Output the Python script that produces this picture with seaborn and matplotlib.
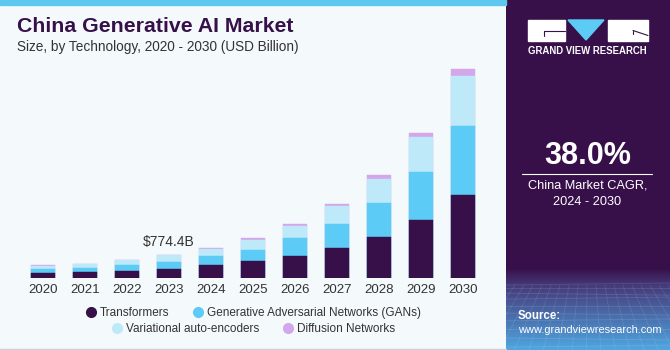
import numpy as np
import pandas as pd
import matplotlib
matplotlib.use("Agg")
import matplotlib.pyplot as plt
import seaborn as sns
from matplotlib.lines import Line2D
from matplotlib.patches import Rectangle, Polygon

# ---------------- data (USD Billion) ----------------
years = ['2020', '2021', '2022', '2023', '2024', '2025', '2026', '2027', '2028', '2029', '2030']
transformers = [160, 185, 243, 310, 422, 555, 721, 997, 1363, 1918, 2749]
gans = [130, 140, 176, 233, 299, 386, 598, 798, 1130, 1596, 2313]
vae = [115, 130, 166, 209, 246, 332, 419, 588, 808, 1183, 1642]
diffusion = [17, 20, 23, 22.4, 33, 47, 57, 76, 123, 123, 233]
series_names = ['Transformers', 'Generative Adversarial Networks (GANs)',
                'Variational auto-encoders', 'Diffusion Networks']
annot_year = '2023'
annot_text = '$774.4B'
cagr_text = '38.0%'

colors = ['#37104a', '#5ccbf5', '#bde9f9', '#d3a7ea']
BG = '#f4f9fc'
PURPLE = '#37104a'

sns.set_theme(style='white')
plt.rcParams['font.family'] = ['Liberation Sans', 'DejaVu Sans']

W, H = 670, 350
fig = plt.figure(figsize=(W / 100, H / 100), dpi=100)
fig.patch.set_facecolor(BG)

def fx(px):
    return px / W

def fy(py):
    return 1 - py / H

# top cyan strip
fig.patches.append(Rectangle((0, fy(5)), fx(506), 5 / H, transform=fig.transFigure,
                             color='#5ec7f0', zorder=0))
# bottom border line
fig.patches.append(Rectangle((0, 0), fx(506), 1.5 / H, transform=fig.transFigure,
                             color='#cdd2d6', zorder=0))

# ---------------- bars ----------------
ax = fig.add_axes([fx(22), fy(278), 462 / W, 218 / H])
ax.set_facecolor('none')
layers = [transformers, gans, vae, diffusion]
cums = np.cumsum(np.array(layers, dtype=float), axis=0)
for i in range(3, -1, -1):
    d = pd.DataFrame({'year': years, 'val': cums[i]})
    sns.barplot(data=d, x='year', y='val', color=colors[i], width=0.58,
                saturation=1, ax=ax, edgecolor=colors[i], linewidth=0.3)

ax.set_xlim(-0.5, len(years) - 0.5)
ax.set_ylim(0, 218 * 33.24)
ax.set_xlabel('')
ax.set_ylabel('')
ax.set_yticks([])
for s in ax.spines.values():
    s.set_visible(False)
ax.tick_params(axis='x', length=0, pad=4, labelsize=9.5, labelcolor='#333333')

ia = years.index(annot_year)
ax.annotate(annot_text, xy=(ia, cums[3][ia]), xytext=(0, 9.5), textcoords='offset points',
            ha='center', va='center', fontsize=10, color='#333333')

# ---------------- title ----------------
fig.text(fx(17), fy(27), 'China Generative AI Market', fontsize=15.3, fontweight='heavy',
         color='#37104a', ha='left', va='center')
fig.text(fx(17), fy(47), 'Size, by Technology, 2020 - 2030 (USD Billion)', fontsize=9.8,
         color='#333333', ha='left', va='center')

# ---------------- legend ----------------
def handle(c):
    return Line2D([], [], marker='o', linestyle='', markersize=7, markerfacecolor=c,
                  markeredgecolor=c)

leg_kw = dict(ncol=2, loc='center', frameon=False, fontsize=8.5, handletextpad=0.25,
              columnspacing=1.9, handlelength=1.0, borderaxespad=0, borderpad=0)
leg1 = fig.legend([handle(colors[0]), handle(colors[1])], series_names[:2],
                  bbox_to_anchor=(fx(253), fy(313)), **leg_kw)
leg2 = fig.legend([handle(colors[2]), handle(colors[3])], series_names[2:],
                  bbox_to_anchor=(fx(253), fy(329)), **leg_kw)
for lg in (leg1, leg2):
    for t in lg.get_texts():
        t.set_color('#333333')

# ---------------- right panel ----------------
pax = fig.add_axes([fx(506), 0, 164 / W, 1])
pax.set_axis_off()
n = 350
top = np.array([0x37, 0x10, 0x4a]) / 255
mid = np.array([0x45, 0x3a, 0x7a]) / 255
bot = np.array([0x4f, 0xa8, 0xe2]) / 255
grad = np.zeros((n, 1, 3))
for r in range(n):
    if r < 268:
        grad[r, 0] = top
    elif r < 285:
        t = (r - 268) / 17
        grad[r, 0] = top * (1 - t) + mid * t
    else:
        t = (r - 285) / (n - 285)
        grad[r, 0] = mid * (1 - t) + bot * t
pax.imshow(grad, aspect='auto', extent=(0, 164, 350, 0))
pax.set_xlim(0, 164)
pax.set_ylim(350, 0)
# faint grid pattern
for k in range(12):
    yy = 285 + (k ** 1.35) * 3.2
    if yy < 350:
        pax.plot([0, 164], [yy, yy + (k % 3 - 1) * 2], color='white', alpha=0.12, lw=0.6)
for k in range(-10, 30):
    x0 = k * 9
    pax.plot([x0, x0 + (x0 - 82) * 0.6], [285, 350], color='white', alpha=0.10, lw=0.6)

# logo
lx = 506
pax.add_patch(Rectangle((527.5 - lx, 20), 37, 20.5, color='white'))
pax.add_patch(Polygon([[568 - lx, 20], [604 - lx, 20], [586 - lx, 40]], color='#5ccbf5'))
pax.add_patch(Rectangle((608 - lx, 20), 40, 20.5, color='white'))
pax.plot([544 - lx, 564.5 - lx], [30.5, 30.5], color=PURPLE, lw=0.8)
pax.plot([544 - lx, 544 - lx], [30.5, 36], color=PURPLE, lw=0.8)
pax.plot([633 - lx, 648 - lx], [30.5, 35.5], color=PURPLE, lw=0.8)
pax.plot([633 - lx, 633 - lx], [30.5, 34], color=PURPLE, lw=0.8)
pax.text(587.5 - lx, 51.5, 'GRAND VIEW RESEARCH', color='white', fontsize=6.9,
         fontweight='bold', ha='center', va='center')

pax.text(587.5 - lx, 156, cagr_text, color='white', fontsize=22, fontweight='bold',
         ha='center', va='center')
pax.plot([522 - lx, 652 - lx], [173.5, 173.5], color='white', lw=0.8)
pax.text(587.5 - lx, 186, 'China Market CAGR,', color='white', fontsize=9.2,
         ha='center', va='center')
pax.text(587.5 - lx, 202, '2024 - 2030', color='white', fontsize=9.2,
         ha='center', va='center')
pax.text(518 - lx, 316, 'Source:', color='white', fontsize=8.3, fontweight='bold',
         ha='left', va='center')
pax.text(518 - lx, 330, 'www.grandviewresearch.com', color='white', fontsize=7.9,
         ha='left', va='center')

fig.savefig('out.png', dpi=100, facecolor=fig.get_facecolor())
